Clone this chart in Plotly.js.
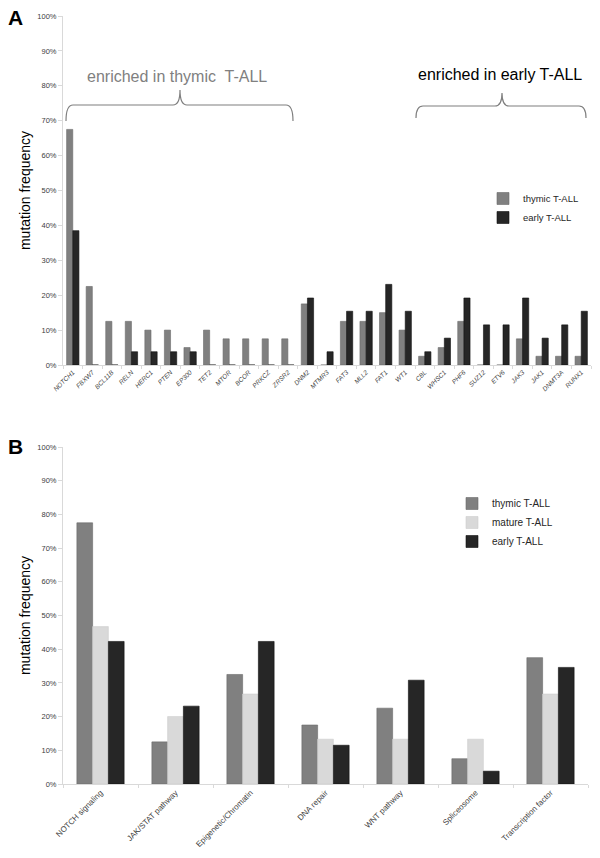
<!DOCTYPE html>
<html>
<head>
<meta charset="utf-8">
<script src="https://cdn.plot.ly/plotly-3.0.1.min.js"></script>
<style>
  body { margin: 0; background: #fff; }
  #chart { width: 600px; height: 858px; }
</style>
</head>
<body>
<div id="chart"></div>
<script>
// panel A: individual genes
var genes = ['NOTCH1', 'FBXW7', 'BCL11B', 'RELN', 'HERC1', 'PTEN', 'EP300', 'TET2', 'MTOR', 'BCOR',
    'PRKCZ', 'ZRSR2', 'DNM2', 'MTMR3', 'FAT3', 'MLL2', 'FAT1', 'WT1', 'CBL', 'WHSC1',
    'PHF6', 'SUZ12', 'ETV6', 'JAK3', 'JAK1', 'DNMT3A', 'RUNX1'];
var geneThymic = [67.5, 22.5, 12.5, 12.5, 10, 10, 5, 10, 7.5, 7.5,
    7.5, 7.5, 17.5, 0, 12.5, 12.5, 15, 10, 2.5, 5,
    12.5, 0, 0, 7.5, 2.5, 2.5, 2.5];
var geneEarly = [38.5, 0, 0, 3.8, 3.8, 3.8, 3.8, 0, 0, 0,
    0, 0, 19.2, 3.8, 15.4, 15.4, 23.1, 15.4, 3.8, 7.7,
    19.2, 11.5, 11.5, 19.2, 7.7, 11.5, 15.4];

// panel B: pathways
var pathways = ['NOTCH signaling', 'JAK/STAT pathway', 'Epigenetic/Chromatin', 'DNA repair',
    'WNT pathway', 'Spliceosome', 'Transcription factor'];
var pathThymic = [77.5, 12.5, 32.5, 17.5, 22.5, 7.5, 37.5];
var pathMature = [46.7, 20, 26.7, 13.3, 13.3, 13.3, 26.7];
var pathEarly = [42.3, 23.1, 42.3, 11.5, 30.8, 3.8, 34.6];

var W = 600, H = 858;
var FONT = 'Liberation Sans, Arial, sans-serif';
var cThymic = '#808080', cMature = '#d9d9d9', cEarly = '#262626';

// pixel -> paper helpers (for decoration only)
function px(x) { return x / W; }
function py(y) { return 1 - y / H; }

function bar(x, y, name, color, line, xa, ya, leg) {
    return {
        type: 'bar', x: x, y: y, name: name,
        xaxis: xa, yaxis: ya, legend: leg,
        marker: {color: color, line: {color: line, width: 0.6}},
        hoverinfo: 'none'
    };
}

var data = [
    bar(genes, geneThymic, 'thymic T-ALL', cThymic, '#6a6a6a', 'x', 'y', 'legend'),
    bar(genes, geneEarly, 'early T-ALL', cEarly, '#111111', 'x', 'y', 'legend'),
    bar(pathways, pathThymic, 'thymic T-ALL', cThymic, '#6a6a6a', 'x2', 'y2', 'legend2'),
    bar(pathways, pathMature, 'mature T-ALL', cMature, '#cfcfcf', 'x2', 'y2', 'legend2'),
    bar(pathways, pathEarly, 'early T-ALL', cEarly, '#111111', 'x2', 'y2', 'legend2')
];

// curly brace built from pixel points
function brace(x0, x1, xm, yEnd, yLine, yTip) {
    var r = 7;
    var p = function (x, y) { return px(x).toFixed(5) + ',' + py(y).toFixed(5); };
    var s = 'M ' + p(x0, yEnd) +
        ' Q ' + p(x0, yLine) + ' ' + p(x0 + r, yLine) +
        ' L ' + p(xm - r, yLine) +
        ' Q ' + p(xm, yLine) + ' ' + p(xm, yTip) +
        ' Q ' + p(xm, yLine) + ' ' + p(xm + r, yLine) +
        ' L ' + p(x1 - r, yLine) +
        ' Q ' + p(x1, yLine) + ' ' + p(x1, yEnd);
    return {
        type: 'path', xref: 'paper', yref: 'paper', path: s,
        line: {color: '#7f7f7f', width: 1.2}
    };
}

function yAxis(domain, anchor) {
    return {
        domain: domain, anchor: anchor,
        range: [0, 100], dtick: 10, ticksuffix: '%',
        showgrid: false, zeroline: false,
        showline: true, linecolor: '#d9d9d9', linewidth: 1,
        ticks: 'outside', ticklen: 4, tickcolor: '#d9d9d9',
        tickfont: {family: FONT, size: 7.5, color: '#404040'},
        title: {text: 'mutation frequency', font: {family: FONT, size: 14, color: '#000'}, standoff: 3},
        fixedrange: true
    };
}

function label(x, y, text, size, color) {
    return {
        xref: 'paper', yref: 'paper', x: px(x), y: py(y), text: text,
        xanchor: 'center', yanchor: 'middle', showarrow: false,
        font: {family: FONT, size: size, color: color}
    };
}

var layout = {
    width: W, height: H,
    margin: {l: 0, r: 0, t: 0, b: 0, pad: 0},
    paper_bgcolor: '#fff', plot_bgcolor: '#fff',
    barmode: 'group', bargap: 0.37, bargroupgap: 0,
    font: {family: FONT},
    xaxis: {
        domain: [px(63), px(591)], anchor: 'y',
        showgrid: false, zeroline: false,
        showline: true, linecolor: '#d9d9d9', linewidth: 1,
        ticks: 'outside', tickson: 'boundaries', ticklen: 3, tickcolor: '#d9d9d9',
        tickangle: -45,
        tickfont: {family: FONT, size: 6.5, color: '#404040', style: 'italic'},
        fixedrange: true
    },
    yaxis: yAxis([py(365), py(16)], 'x'),
    xaxis2: {
        domain: [px(63), px(588)], anchor: 'y2',
        showgrid: false, zeroline: false,
        showline: true, linecolor: '#d9d9d9', linewidth: 1,
        ticks: 'outside', tickson: 'boundaries', ticklen: 3, tickcolor: '#d9d9d9',
        tickangle: -45,
        tickfont: {family: FONT, size: 8, color: '#404040'},
        fixedrange: true
    },
    yaxis2: yAxis([py(784), py(447)], 'x2'),
    showlegend: true,
    legend: {
        x: px(483), y: py(184), xanchor: 'left', yanchor: 'top',
        bgcolor: 'rgba(0,0,0,0)', itemclick: false,
        font: {family: FONT, size: 9.5, color: '#262626'}
    },
    legend2: {
        x: px(452), y: py(489), xanchor: 'left', yanchor: 'top',
        bgcolor: 'rgba(0,0,0,0)', itemclick: false,
        font: {family: FONT, size: 10, color: '#262626'}
    },
    shapes: [
        brace(66, 293, 180, 121, 105, 90),
        brace(416, 586, 502, 118, 106, 93)
    ],
    annotations: [
        label(15, 17, '<b>A</b>', 21, '#000'),
        label(15, 447, '<b>B</b>', 21, '#000'),
        label(177, 76, 'enriched in thymic  T-ALL', 16, '#808080'),
        label(500, 75, 'enriched in early T-ALL', 16, '#000')
    ]
};

Plotly.newPlot('chart', data, layout, {displayModeBar: false, staticPlot: true});
</script>
</body>
</html>
